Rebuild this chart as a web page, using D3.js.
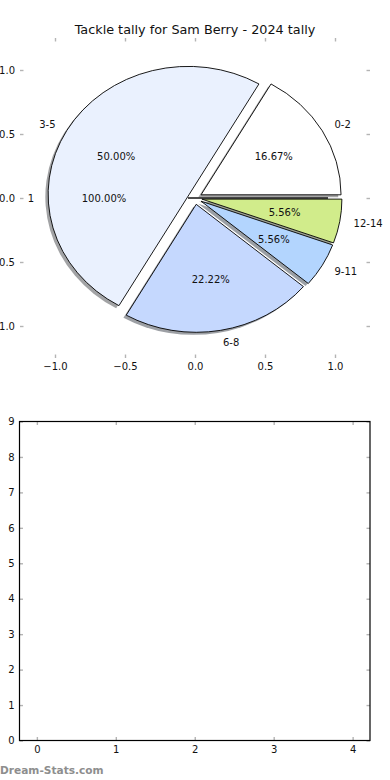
<!DOCTYPE html>
<html>
<head>
<meta charset="utf-8">
<script src="https://cdn.jsdelivr.net/npm/d3@7"></script>
<style>
  body { margin: 0; background: #fff; }
  text { font-family: "DejaVu Sans", sans-serif; }
</style>
</head>
<body>
<script>
// ---- data ----
const pieLabels = ["0-2", "3-5", "6-8", "9-11", "12-14"];
const pieValues = [3, 9, 4, 1, 1];
const pieColors = ["#ffffff", "#eaf1fe", "#c5d8fe", "#b3d5fe", "#d1ec8b"];
const totalLabels = ["1"];
const totalValues = [1];
const totalColors = ["#ffffff"];
const pieTicks = [-1.0, -0.5, 0.0, 0.5, 1.0];
const barXTicks = [0, 1, 2, 3, 4];
const barYTicks = [0, 1, 2, 3, 4, 5, 6, 7, 8, 9];
const titleText = "Tackle tally for Sam Berry - 2024 tally";
const watermark = "Dream-Stats.com";

const W = 390, H = 780;
const explode = 0.05;
const svg = d3.select("body").append("svg").attr("width", W).attr("height", H);

const tickColor = "#b4b4b4";
const fontSize = 10;

// ---- title ----
svg.append("text").attr("x", 195).attr("y", 34).attr("text-anchor", "middle")
  .attr("font-size", 12.8).attr("fill", "#111").text(titleText);

// ---- pie axes ----
const px = d3.scaleLinear().domain([-1.25, 1.25]).range([20, 370]);
const py = d3.scaleLinear().domain([-1.25, 1.25]).range([358, 38]);
const cx = px(0), cy = py(0);
const rx = px(1) - px(0), ry = py(0) - py(1);
const shX = px(-0.02) - px(0), shY = py(-0.02) - py(0);

function styleAxis(g, labels) {
  g.select(".domain").remove();
  g.selectAll(".tick line").attr("stroke", tickColor).attr("stroke-width", 1.4);
  g.selectAll(".tick text").attr("font-family", "DejaVu Sans, sans-serif")
    .attr("font-size", fontSize).attr("fill", "#111");
  if (!labels) g.selectAll(".tick text").remove();
}
const fmt1 = d3.format(".1f");
svg.append("g").attr("transform", `translate(0,${py(-1.25)})`)
  .call(d3.axisBottom(px).tickValues(pieTicks).tickSizeInner(-3.5).tickSizeOuter(0).tickPadding(5).tickFormat(fmt1))
  .call(g => styleAxis(g, true));
svg.append("g").attr("transform", `translate(0,${py(1.25)})`)
  .call(d3.axisTop(px).tickValues(pieTicks).tickSizeInner(-3.5).tickSizeOuter(0))
  .call(g => styleAxis(g, false));
svg.append("g").attr("transform", `translate(${px(-1.25)},0)`)
  .call(d3.axisLeft(py).tickValues(pieTicks).tickSizeInner(-3.5).tickSizeOuter(0).tickPadding(5).tickFormat(fmt1))
  .call(g => styleAxis(g, true));
svg.append("g").attr("transform", `translate(${px(1.25)},0)`)
  .call(d3.axisRight(py).tickValues(pieTicks).tickSizeInner(-3.5).tickSizeOuter(0))
  .call(g => styleAxis(g, false));

// ---- pies ----
const pieGen = d3.pie().sort(null).value(d => d)
  .startAngle(Math.PI / 2).endAngle(Math.PI / 2 - 2 * Math.PI);
const arcGen = d3.arc().innerRadius(0).outerRadius(1);
function arcPath(d) {
  let s = d.startAngle, e = d.endAngle;
  if (Math.abs(e - s) >= 2 * Math.PI - 1e-9) e = s - (2 * Math.PI - 1e-6);
  return arcGen({startAngle: s, endAngle: e});
}
function mid(d) { return (d.startAngle + d.endAngle) / 2; }
function offX(d, r) { return rx * r * Math.sin(mid(d)); }
function offY(d, r) { return -ry * r * Math.cos(mid(d)); }

const pieArcs = pieGen(pieValues);
const totalArcs = pieGen(totalValues);

function shadowColor(c) {
  const k = d3.rgb(c);
  return d3.rgb(k.r * 0.3, k.g * 0.3, k.b * 0.3).toString();
}

const pieLayer = svg.append("g");
// shadows (lowest)
function drawShadows(arcs, colors) {
  pieLayer.append("g").selectAll("path").data(arcs).join("path")
    .attr("transform", d => `translate(${cx + offX(d, explode) + shX},${cy + offY(d, explode) + shY}) scale(${rx},${ry})`)
    .attr("d", arcPath)
    .attr("fill", (d, i) => shadowColor(colors[i]))
    .attr("fill-opacity", 0.5)
    .attr("stroke", "none");
}
drawShadows(totalArcs, totalColors);
drawShadows(pieArcs, pieColors);

function drawWedges(arcs, colors) {
  pieLayer.append("g").selectAll("path").data(arcs).join("path")
    .attr("transform", d => `translate(${cx + offX(d, explode)},${cy + offY(d, explode)}) scale(${rx},${ry})`)
    .attr("d", arcPath)
    .attr("fill", (d, i) => colors[i])
    .attr("stroke", "#000")
    .attr("stroke-width", 0.9)
    .attr("stroke-linejoin", "miter")
    .attr("vector-effect", "non-scaling-stroke");
}
drawWedges(totalArcs, totalColors);
drawWedges(pieArcs, pieColors);

function drawTexts(arcs, labels, values) {
  const sum = d3.sum(values);
  const g = pieLayer.append("g").attr("font-size", fontSize).attr("fill", "#111");
  g.selectAll("text.lab").data(arcs).join("text").attr("class", "lab")
    .attr("x", d => cx + offX(d, explode + 1.1))
    .attr("y", d => cy + offY(d, explode + 1.1))
    .attr("text-anchor", d => offX(d, 1) > 0 ? "start" : "end")
    .attr("dominant-baseline", "central")
    .text((d, i) => labels[i]);
  g.selectAll("text.pct").data(arcs).join("text").attr("class", "pct")
    .attr("x", d => cx + offX(d, explode + 0.6))
    .attr("y", d => cy + offY(d, explode + 0.6))
    .attr("text-anchor", "middle")
    .attr("dominant-baseline", "central")
    .text(d => d3.format(".2f")(d.value / sum * 100) + "%");
}
drawTexts(totalArcs, totalLabels, totalValues);
drawTexts(pieArcs, pieLabels, pieValues);

// ---- bottom (empty) axes ----
const bx = d3.scaleLinear().domain([-0.22, 4.22]).range([19.5, 370]);
const by = d3.scaleLinear().domain([0, 9]).range([740.5, 421.5]);
const fmt0 = d3.format("d");
svg.append("g").attr("transform", `translate(0,${by(0)})`)
  .call(d3.axisBottom(bx).tickValues(barXTicks).tickSizeInner(-3.5).tickSizeOuter(0).tickPadding(5).tickFormat(fmt0))
  .call(g => styleAxis(g, true));
svg.append("g").attr("transform", `translate(0,${by(9)})`)
  .call(d3.axisTop(bx).tickValues(barXTicks).tickSizeInner(-3.5).tickSizeOuter(0))
  .call(g => styleAxis(g, false));
svg.append("g").attr("transform", `translate(${bx(-0.22)},0)`)
  .call(d3.axisLeft(by).tickValues(barYTicks).tickSizeInner(-3.5).tickSizeOuter(0).tickPadding(5).tickFormat(fmt0))
  .call(g => styleAxis(g, true));
svg.append("g").attr("transform", `translate(${bx(4.22)},0)`)
  .call(d3.axisRight(by).tickValues(barYTicks).tickSizeInner(-3.5).tickSizeOuter(0))
  .call(g => styleAxis(g, false));
svg.append("rect")
  .attr("x", bx(-0.22)).attr("y", by(9))
  .attr("width", bx(4.22) - bx(-0.22)).attr("height", by(0) - by(9))
  .attr("fill", "none").attr("stroke", "#000").attr("stroke-width", 1.2);

// ---- watermark ----
svg.append("text").attr("x", 0).attr("y", 774)
  .attr("font-size", 10.6).attr("font-weight", "bold").attr("fill", "#8e8e8e")
  .text(watermark);
</script>
</body>
</html>
